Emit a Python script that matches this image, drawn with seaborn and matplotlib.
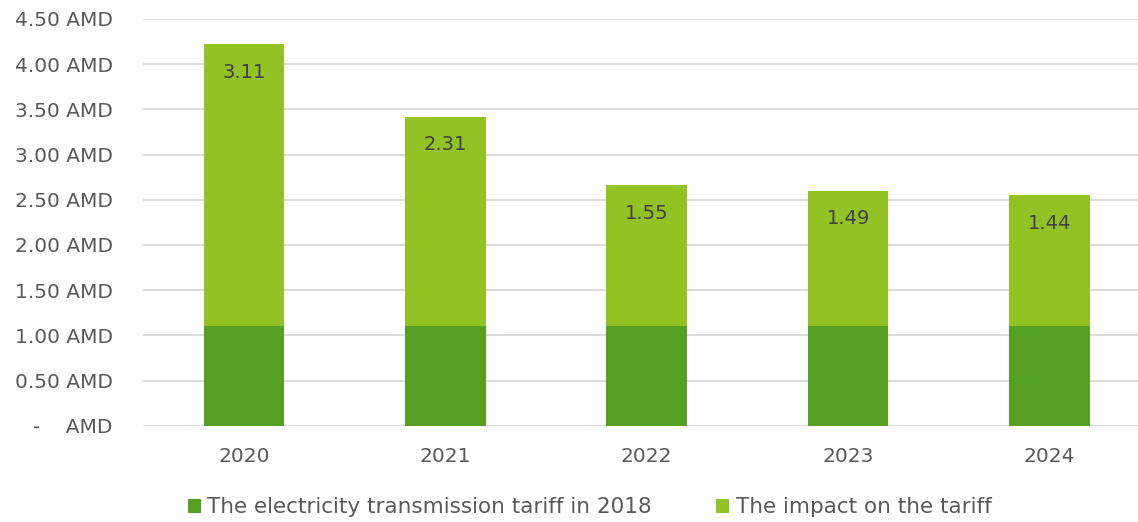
import matplotlib
matplotlib.use("Agg")
import matplotlib.pyplot as plt
import seaborn as sns
import pandas as pd
from matplotlib.patches import Patch
from matplotlib.ticker import FuncFormatter

years = ["2020", "2021", "2022", "2023", "2024"]
base_tariff = [1.11, 1.11, 1.11, 1.11, 1.11]
impact = [3.11, 2.31, 1.55, 1.49, 1.44]
yticks = [0, 0.5, 1.0, 1.5, 2.0, 2.5, 3.0, 3.5, 4.0, 4.5]
series_names = ["The electricity transmission tariff in 2018", "The impact on the tariff"]

dark = "#55a023"
light = "#93c225"
text_col = "#595959"

sns.set_theme(style="white")
plt.rcParams['font.family'] = ['DejaVu Sans']

fig = plt.figure(figsize=(11.38, 5.22), dpi=100)
ax = fig.add_axes([0.126, 0.184, 0.874, 0.78])

totals = [b + i for b, i in zip(base_tariff, impact)]
df_tot = pd.DataFrame({"year": years, "value": totals})
df_base = pd.DataFrame({"year": years, "value": base_tariff})

sns.barplot(data=df_tot, x="year", y="value", color=light, width=0.4, ax=ax,
            saturation=1, edgecolor="none", zorder=3)
sns.barplot(data=df_base, x="year", y="value", color=dark, width=0.4, ax=ax,
            saturation=1, edgecolor="none", zorder=3)

for i, (t, v) in enumerate(zip(totals, impact)):
    ax.annotate(f"{v:.2f}", xy=(i, t), xytext=(0, -28), textcoords="offset pixels",
                ha="center", va="center", fontsize=14, color="#404040", zorder=4)

ax.set_ylim(0, 4.5)
ax.set_xlim(-0.5, 4.44)
ax.set_yticks(yticks)

def fmt(v, pos):
    if abs(v) < 1e-9:
        return "-    AMD"
    return f"{v:.2f} AMD"

ax.yaxis.set_major_formatter(FuncFormatter(fmt))
ax.grid(axis="y", color="#d9d9d9", linewidth=1.3, zorder=0)
ax.set_axisbelow(True)
for s in ax.spines.values():
    s.set_visible(False)
ax.set_xlabel("")
ax.set_ylabel("")
ax.tick_params(axis="both", length=0, labelsize=14.5, colors=text_col)
ax.tick_params(axis="y", pad=22)
ax.tick_params(axis="x", pad=15)

handles = [Patch(facecolor=dark, edgecolor="none"), Patch(facecolor=light, edgecolor="none")]
leg = fig.legend(handles, series_names, loc="center", bbox_to_anchor=(0.518, 0.028),
                 ncol=2, frameon=False, fontsize=15.5, handlelength=0.6, handleheight=0.6,
                 handletextpad=0.3, columnspacing=3.0)
for t in leg.get_texts():
    t.set_color(text_col)

fig.savefig("out.png", dpi=100)
